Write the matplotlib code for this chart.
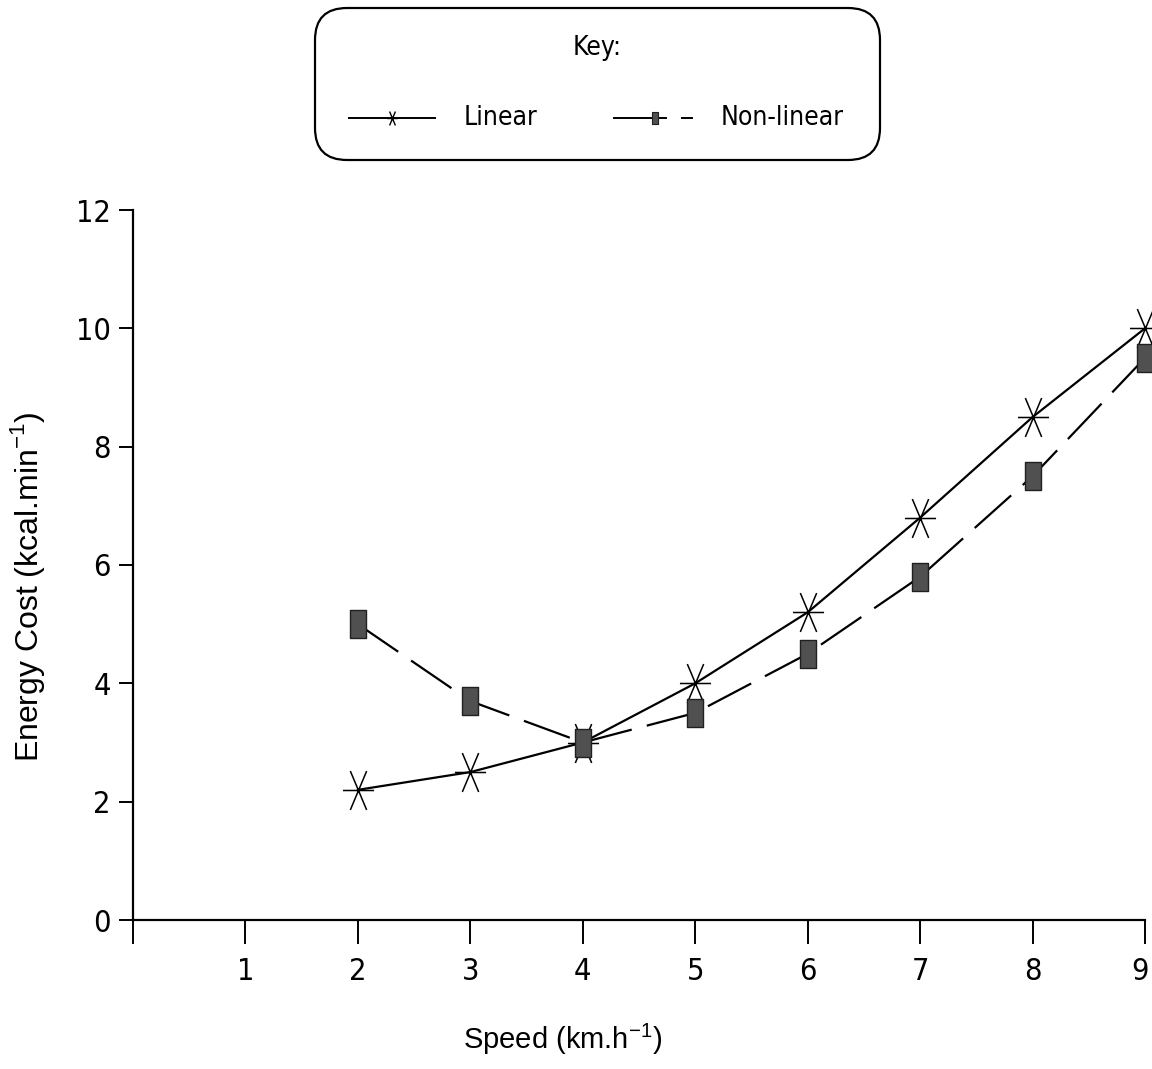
import numpy as np
import matplotlib
matplotlib.use("Agg")
import matplotlib.pyplot as plt
from matplotlib.path import Path
from matplotlib.patches import FancyBboxPatch
from matplotlib.lines import Line2D
from matplotlib.transforms import ScaledTranslation

speed = [2, 3, 4, 5, 6, 7, 8, 9]
linear = [2.2, 2.5, 3.0, 4.0, 5.2, 6.8, 8.5, 10.0]
nonlinear = [5.0, 3.7, 3.0, 3.5, 4.5, 5.8, 7.5, 9.5]
xticks = [0, 1, 2, 3, 4, 5, 6, 7, 8, 9]
xticklabels = ["", "1", "2", "3", "4", "5", "6", "7", "8", "9"]
yticks = [0, 2, 4, 6, 8, 10, 12]

narrow = dict(family="DejaVu Sans", stretch="condensed")
plain = ["Liberation Sans", "DejaVu Sans"]

# asterisk: horizontal bar plus two steep diagonals
star = Path([(-0.8, 0), (0.8, 0), (-0.42, -1), (0.42, 1), (0.42, -1), (-0.42, 1)],
            [Path.MOVETO, Path.LINETO] * 3)
# upright rectangle for the non-linear points
rect = Path([(-0.55, -1), (0.55, -1), (0.55, 1), (-0.55, 1), (-0.55, -1)],
            [Path.MOVETO, Path.LINETO, Path.LINETO, Path.LINETO, Path.CLOSEPOLY])

fig = plt.figure(figsize=(11.52, 10.69), dpi=100)
ax = fig.add_axes([133/1152, 1-920/1069, 1012/1152, 710/1069])

ax.plot(speed, linear, color="black", lw=1.6, marker=star, ms=28,
        mew=1.1, clip_on=False, zorder=3)
ax.plot(speed, nonlinear, color="black", lw=1.6, dashes=(22, 7),
        marker=rect, ms=20, mfc="#505050", mec="#202020", mew=1,
        clip_on=False, zorder=3)

ax.set_xlim(0, 9)
ax.set_ylim(0, 12)
ax.spines["top"].set_visible(False)
ax.spines["right"].set_visible(False)
for s in ("left", "bottom"):
    ax.spines[s].set_linewidth(1.6)

ax.set_xticks(xticks)
ax.set_xticklabels(xticklabels, fontsize=22, **narrow)
ax.set_yticks(yticks)
ax.set_yticklabels([str(v) for v in yticks], fontsize=22, **narrow)
ax.tick_params(axis="x", direction="out", length=17, width=1.4, pad=10)
ax.tick_params(axis="y", direction="out", length=10, width=1.4, pad=6)

# nudge the last x label so it stays inside the figure
last = ax.get_xticklabels()[-1]
last.set_transform(last.get_transform() + ScaledTranslation(-5/100, 0, fig.dpi_scale_trans))

ax.set_xlabel(r"Speed (km.h$^{\mathregular{-1}}$)", family=plain, fontsize=21)
ax.xaxis.set_label_coords(0.425, -0.143)
ax.set_ylabel(r"Energy Cost (kcal.min$^{\mathregular{-1}}$)", family=plain, fontsize=23)
ax.yaxis.set_label_coords(-0.085, 0.47)

# key box drawn in pixel units
kax = fig.add_axes([313/1152, 1-162/1069, 569/1152, 156/1069])
kax.set_xlim(0, 569)
kax.set_ylim(156, 0)
kax.axis("off")
kax.add_patch(FancyBboxPatch((2, 2), 565, 152,
                             boxstyle="round,pad=0,rounding_size=32",
                             fc="white", ec="black", lw=1.6))
kax.text(284, 42, "Key:", fontsize=19, ha="center", va="center", **narrow)

kax.add_line(Line2D([36, 122], [112, 112], color="black", lw=1.4))
kax.add_line(Line2D([79], [112], marker=star, ms=10, mew=1, color="black"))
kax.text(151, 112, "Linear", fontsize=19, va="center", **narrow)

kax.add_line(Line2D([301, 353], [112, 112], color="black", lw=1.4))
kax.add_line(Line2D([369, 379], [112, 112], color="black", lw=1.4))
kax.add_line(Line2D([342], [112], marker=rect, ms=8, mfc="#505050",
                    mec="#202020", mew=0.8))
kax.text(408, 112, "Non-linear", fontsize=19, va="center", **narrow)

fig.savefig("out.png", dpi=100)
